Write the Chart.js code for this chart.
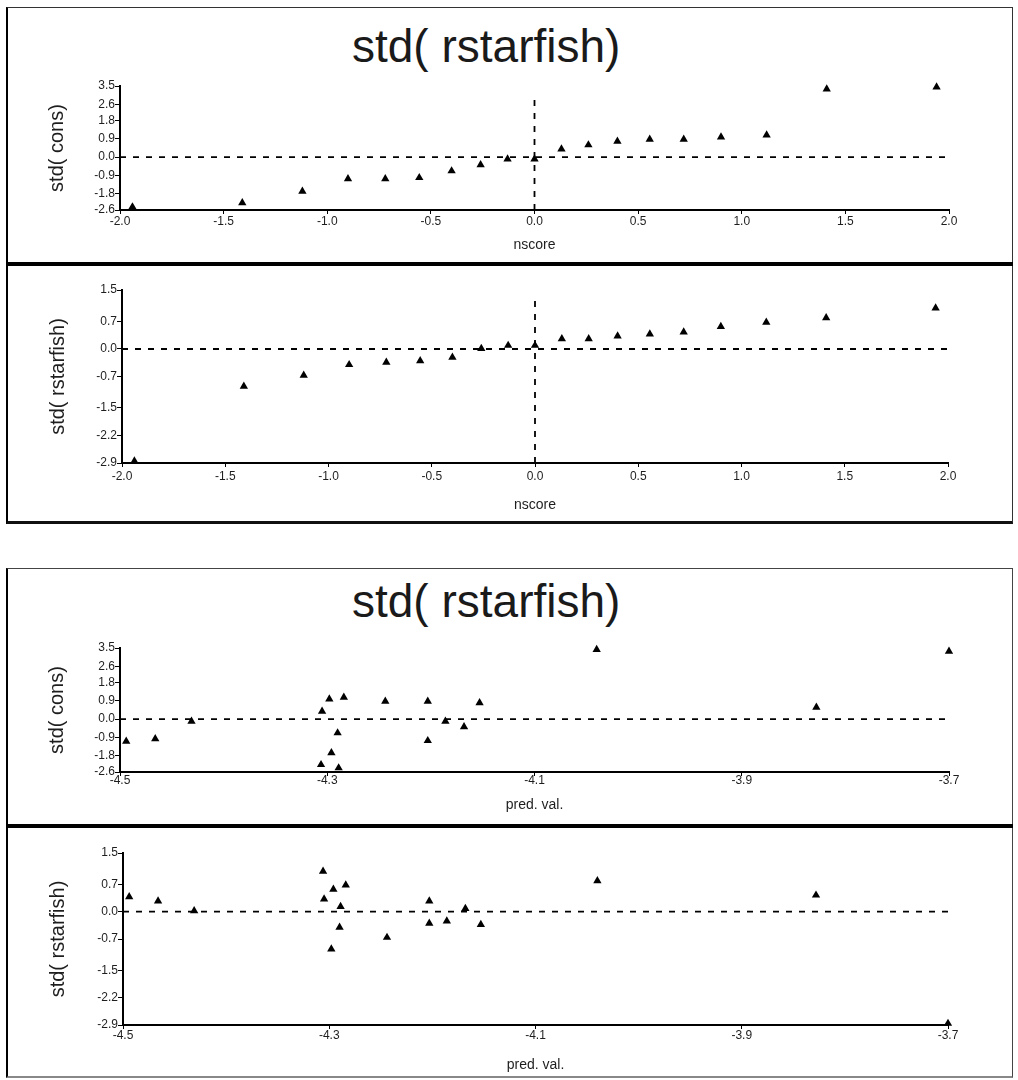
<!DOCTYPE html>
<html>
<head>
<meta charset="utf-8">
<title>std( rstarfish)</title>
<script src="https://cdn.jsdelivr.net/npm/chart.js@4.4.1/dist/chart.umd.min.js"></script>
<style>
  body { margin: 0; background: #fff; width: 1018px; height: 1080px; position: relative; overflow: hidden;
         font-family: "Liberation Sans", Arial, sans-serif; }
  .box { position: absolute; box-sizing: border-box; }
  .title { position: absolute; font-size: 46px; line-height: 46px; color: #1a1a1a; white-space: nowrap; }
  canvas { position: absolute; left: 0; }
</style>
</head>
<body>

<!-- frames -->
<div class="box" style="left:6px;top:7px;width:1007px;height:517px;border:1px solid #333;border-left:2px solid #000;border-bottom:3px solid #111;"></div>
<div class="box" style="left:6px;top:262px;width:1007px;height:4px;background:#000;"></div>
<div class="box" style="left:6px;top:568px;width:1007px;height:510px;border:1px solid #444;border-left:2px solid #000;border-bottom:2px solid #888;"></div>
<div class="box" style="left:6px;top:824px;width:1007px;height:4px;background:#000;"></div>

<div class="title" style="left:352px;top:23px;">std( rstarfish)</div>
<div class="title" style="left:352px;top:578px;">std( rstarfish)</div>

<canvas id="c1" width="1018" height="252" style="top:10px;"></canvas>
<canvas id="c2" width="1018" height="254" style="top:266px;"></canvas>
<canvas id="c3" width="1018" height="254" style="top:570px;"></canvas>
<canvas id="c4" width="1018" height="248" style="top:828px;"></canvas>

<script>
// normal scores (same for both upper panels)
const nscore = [-1.94, -1.41, -1.12, -0.90, -0.72, -0.556, -0.40, -0.26, -0.13, 0.0,
                0.13, 0.26, 0.40, 0.556, 0.72, 0.90, 1.12, 1.41, 1.94];
// sorted standardized values, upper two panels
const consSorted = [-2.45, -2.25, -1.68, -1.07, -1.07, -1.01, -0.68, -0.38, -0.09, -0.09,
                    0.40, 0.60, 0.78, 0.88, 0.88, 0.99, 1.09, 3.35, 3.45];
const rstarSorted = [-2.85, -0.95, -0.67, -0.40, -0.34, -0.30, -0.21, 0.01, 0.09, 0.09,
                     0.26, 0.26, 0.33, 0.38, 0.43, 0.57, 0.68, 0.79, 1.04];

// predicted values and matching standardized values, lower two panels
const predVal = [-4.494, -4.466, -4.431, -4.306, -4.305, -4.298, -4.296, -4.290, -4.289, -4.284,
                 -4.244, -4.203, -4.203, -4.186, -4.168, -4.153, -4.040, -3.828, -3.700];
const consByPred = [-1.09, -0.97, -0.11, -2.24, 0.38, 0.99, -1.66, -0.68, -2.40, 1.07,
                    0.88, 0.88, -1.06, -0.11, -0.38, 0.80, 3.42, 0.58, 3.34];
const rstarByPred = [0.38, 0.27, 0.02, 1.03, 0.32, -0.96, 0.57, -0.40, 0.13, 0.68,
                     -0.66, 0.27, -0.30, -0.24, 0.08, -0.33, 0.79, 0.42, -2.86];

// tick labels
const nscoreTicks = [-2.0, -1.5, -1.0, -0.5, 0.0, 0.5, 1.0, 1.5, 2.0];
const predTicks = [-4.5, -4.3, -4.1, -3.9, -3.7];
const consTicks = [-2.6, -1.8, -0.9, 0.0, 0.9, 1.8, 2.6, 3.5];
const rstarTicks = [-2.9, -2.2, -1.5, -0.7, 0.0, 0.7, 1.5];

Chart.defaults.font.family = '"Liberation Sans", Arial, sans-serif';
Chart.defaults.color = '#1e1e1e';
Chart.defaults.animation = false;

function panel(id, p) {
    let xMin = p.xTicks[0], xMax = p.xTicks[p.xTicks.length - 1];
    let yMin = p.yTicks[0], yMax = p.yTicks[p.yTicks.length - 1];

    let datasets = [{
        data: p.xs.map((x, i) => ({ x: x, y: p.ys[i] })),
        pointStyle: 'triangle',
        pointRadius: 4.8,
        pointHoverRadius: 4.8,
        backgroundColor: '#000',
        borderColor: '#000',
        borderWidth: 0,
        clip: false
    }, {
        // dashed zero line
        data: [{ x: xMin, y: 0 }, { x: xMax, y: 0 }],
        showLine: true,
        borderColor: '#000',
        borderWidth: 1.8,
        borderDash: [6, 7],
        pointRadius: 0
    }];

    if (p.vTop !== undefined) {
        datasets.push({
            data: [{ x: 0, y: yMin }, { x: 0, y: p.vTop }],
            showLine: true,
            borderColor: '#000',
            borderWidth: 1.8,
            borderDash: [6, 7],
            pointRadius: 0
        });
    }

    return new Chart(document.getElementById(id), {
        type: 'scatter',
        data: { datasets: datasets },
        options: {
            responsive: false,
            layout: { padding: { left: p.left, right: p.right, top: p.top, bottom: 0 } },
            plugins: { legend: { display: false }, tooltip: { enabled: false } },
            scales: {
                x: {
                    type: 'linear',
                    min: xMin,
                    max: xMax,
                    afterBuildTicks: s => { s.ticks = p.xTicks.map(v => ({ value: v })); },
                    afterFit: s => { s.height = p.xH; },
                    ticks: { callback: v => v.toFixed(1), font: { size: 12 }, padding: p.xTickPad, maxRotation: 0, autoSkip: false },
                    grid: { drawOnChartArea: false, tickLength: 4, color: '#000' },
                    border: { color: '#000', width: 2 },
                    title: { display: true, text: p.xTitle, font: { size: 14 }, padding: { top: 0, bottom: p.xTitlePad } }
                },
                y: {
                    type: 'linear',
                    min: yMin,
                    max: yMax,
                    afterBuildTicks: s => { s.ticks = p.yTicks.map(v => ({ value: v })); },
                    afterFit: s => { s.width = 80; },
                    ticks: { callback: v => v.toFixed(1), font: { size: 12 }, padding: 0, autoSkip: false },
                    grid: { drawOnChartArea: false, tickLength: 5, color: '#000' },
                    border: { color: '#000', width: 2 },
                    title: { display: true, text: p.yTitle, font: { size: 20 }, padding: { top: p.yTitlePad, bottom: 0 } }
                }
            }
        }
    });
}

panel('c1', { xs: nscore, ys: consSorted, xTicks: nscoreTicks, yTicks: consTicks, vTop: 3.15,
              xTitle: 'nscore', yTitle: 'std( cons)',
              left: 40, right: 69, top: 76, xH: 52, xTickPad: 0.5, xTitlePad: 8, yTitlePad: 5 });
panel('c2', { xs: nscore, ys: rstarSorted, xTicks: nscoreTicks, yTicks: rstarTicks, vTop: 1.34,
              xTitle: 'nscore', yTitle: 'std( rstarfish)',
              left: 42, right: 70, top: 24, xH: 57, xTickPad: 2.5, xTitlePad: 6, yTitlePad: 4 });
panel('c3', { xs: predVal, ys: consByPred, xTicks: predTicks, yTicks: consTicks,
              xTitle: 'pred. val.', yTitle: 'std( cons)',
              left: 40, right: 69, top: 78, xH: 52, xTickPad: -3, xTitlePad: 10, yTitlePad: 5 });
panel('c4', { xs: predVal, ys: rstarByPred, xTicks: predTicks, yTicks: rstarTicks,
              xTitle: 'pred. val.', yTitle: 'std( rstarfish)',
              left: 43, right: 70, top: 25, xH: 51, xTickPad: -1, xTitlePad: 2, yTitlePad: 3 });
</script>
</body>
</html>
